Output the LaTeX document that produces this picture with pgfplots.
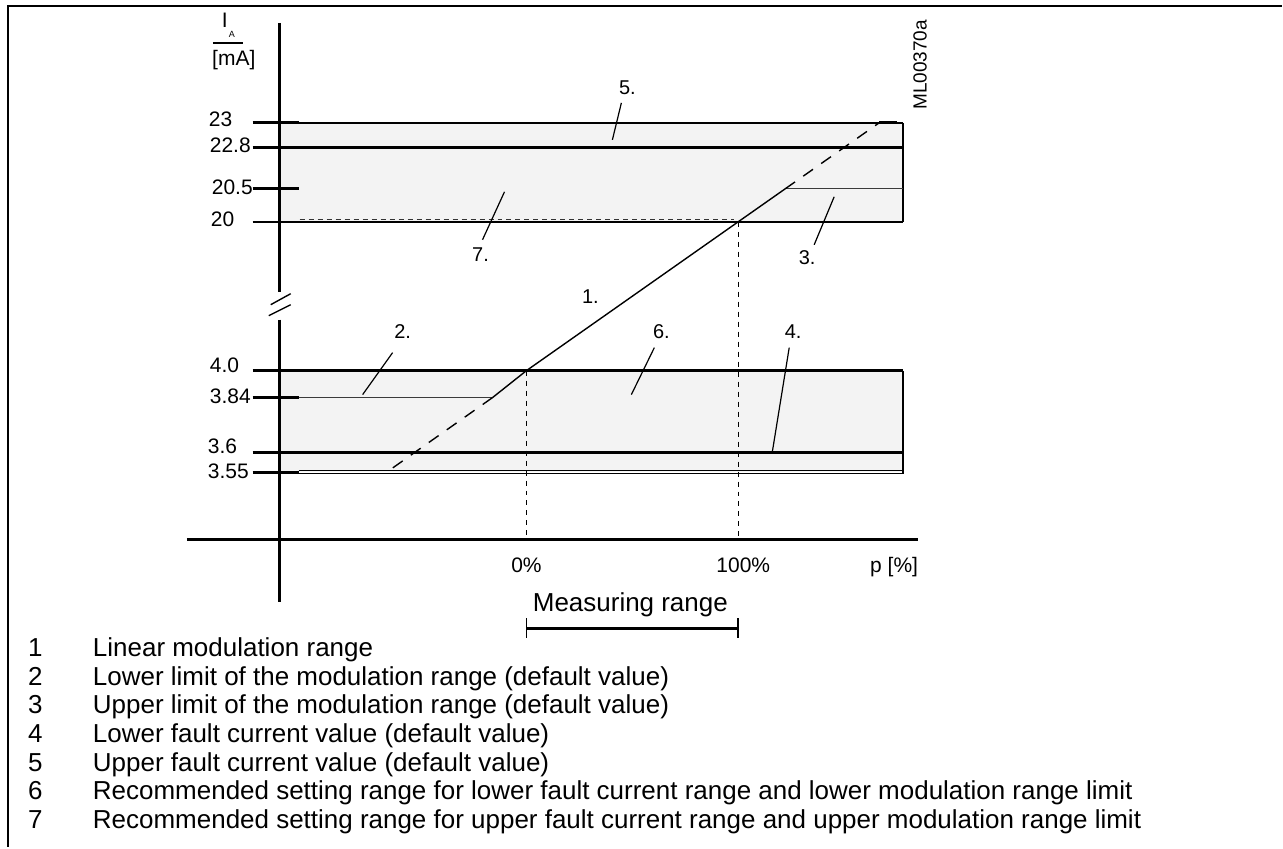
\documentclass[border=0pt]{standalone}
\usepackage{pgfplots}
\pgfplotsset{compat=1.18}
\usepackage{fontspec}
\setmainfont{Liberation Sans}
\definecolor{bandgray}{HTML}{F3F3F3}
\definecolor{linegray}{HTML}{3A3A3A}
\newcommand{\fs}[1]{\fontsize{#1}{#1}\selectfont}

\begin{document}
\begin{tikzpicture}
% schematic drawn in pixel units of the original sheet (y counted downwards)
\begin{axis}[
    width=641.5pt, height=424pt, scale only axis,
    xmin=0, xmax=1283, ymin=0, ymax=848, y dir=reverse,
    hide axis, clip=false,
]
% keep the whole sheet in the bounding box
\addplot[draw=none] coordinates {(0,0) (1283,848)};
% frame
\addplot[black, line width=1.3pt] coordinates {(1283,6) (8,6) (8,848)};

% recommended setting ranges (7. upper, 6. lower)
\addplot[fill=bandgray, draw=none] coordinates {(280,123) (904,123) (904,222) (280,222)} -- cycle;
\addplot[fill=bandgray, draw=none] coordinates {(280,371) (904,371) (904,472) (280,472)} -- cycle;

% upper band lines
\addplot[black, line width=0.9pt] coordinates {(280,123) (904,123)};
\addplot[black, line width=1.5pt] coordinates {(253,148) (904,148)};
\addplot[black, line width=1.2pt] coordinates {(253,222) (904,222)};
\addplot[black!80, line width=0.5pt, dash pattern=on 2.5pt off 2pt] coordinates {(300,219.5) (735,219.5)};
\addplot[black, line width=0.7pt] coordinates {(904,123) (904,222)};
\addplot[black, line width=1.5pt] coordinates {(253,123) (299,123)};
\addplot[black, line width=1.5pt] coordinates {(253,189) (299,189)};

% lower band lines
\addplot[black, line width=1.5pt] coordinates {(253,371) (904,371)};
\addplot[black, line width=1.5pt] coordinates {(253,453) (904,453)};
\addplot[black, line width=0.6pt] coordinates {(299,471) (904,471)};
\addplot[black, line width=0.6pt] coordinates {(299,474) (904,474)};
\addplot[black, line width=0.7pt] coordinates {(904,371) (904,474)};
\addplot[black, line width=1.5pt] coordinates {(253,398) (299,398)};
\addplot[black, line width=1.5pt] coordinates {(253,473) (299,473)};

% 2. lower limit, 1. linear range, 3. upper limit
\addplot[linegray, line width=0.65pt] coordinates {(299,398) (493,398)};
\addplot[black, line width=0.7pt] coordinates {(493,398) (527,371) (739,222) (786,189)};
\addplot[linegray, line width=0.65pt] coordinates {(786,189) (904,189)};
\addplot[black, line width=0.7pt, dash pattern=on 6pt off 5pt] coordinates {(493,398) (388,472)};
\addplot[black, line width=0.7pt, dash pattern=on 6pt off 5pt] coordinates {(786,189) (880,123)};
\addplot[black, line width=1.5pt] coordinates {(880,123) (898,123)};

% 0 % and 100 % markers
\addplot[black, line width=0.6pt, dash pattern=on 2.5pt off 2.5pt] coordinates {(527,371) (527,538)};
\addplot[black, line width=0.6pt, dash pattern=on 2.5pt off 2.5pt] coordinates {(739,222) (739,538)};

% axes with break
\addplot[black, line width=1.5pt] coordinates {(280,23) (280,292)};
\addplot[black, line width=1.5pt] coordinates {(280,320) (280,603)};
\addplot[black, line width=0.7pt] coordinates {(271,305) (291,294)};
\addplot[black, line width=0.7pt] coordinates {(269,316) (291,305)};
\addplot[black, line width=1.6pt] coordinates {(187,540) (919,540)};

% leaders
\addplot[black, line width=0.6pt] coordinates {(622,103) (613,140)};
\addplot[black, line width=0.6pt] coordinates {(505,192) (483,240)};
\addplot[black, line width=0.6pt] coordinates {(835,197) (815,245)};
\addplot[black, line width=0.6pt] coordinates {(393,353) (363,395)};
\addplot[black, line width=0.6pt] coordinates {(655,348) (632,395)};
\addplot[black, line width=0.6pt] coordinates {(790,348) (773,453)};

% measuring range bracket
\addplot[black, line width=1.3pt] coordinates {(527,629) (739,629)};
\addplot[black, line width=0.8pt] coordinates {(527,619) (527,639)};
\addplot[black, line width=0.8pt] coordinates {(739,619) (739,639)};

% axis title I_A / [mA]
\node[anchor=base, font=\fs{10.5}] at (axis cs:225,28) {I};
\node[anchor=base, font=\fs{4.5}] at (axis cs:232,38) {A};
\addplot[black, line width=0.6pt] coordinates {(213,43) (243,43)};
\node[anchor=base, font=\fs{10.5}] at (axis cs:234,66) {[mA]};
\node[rotate=90, font=\fs{9.5}] at (axis cs:921,65) {ML00370a};

% tick labels
\begin{scope}[every node/.style={anchor=base west, font=\fs{10.5}}]
\node at (axis cs:202,127) {23};
\node at (axis cs:203,153) {22.8};
\node at (axis cs:205,195) {20.5};
\node at (axis cs:204,227) {20};
\node at (axis cs:203,373) {4.0};
\node at (axis cs:203,404) {3.84};
\node at (axis cs:201,454) {3.6};
\node at (axis cs:201,479) {3.55};
\end{scope}

% callouts
\begin{scope}[every node/.style={anchor=base, font=\fs{10}}]
\node at (axis cs:628,95) {5.};
\node at (axis cs:481,262) {7.};
\node at (axis cs:808,265) {3.};
\node at (axis cs:591,304) {1.};
\node at (axis cs:403,339) {2.};
\node at (axis cs:662,339) {6.};
\node at (axis cs:794,339) {4.};
\end{scope}
\begin{scope}[every node/.style={anchor=base, font=\fs{10.5}}]
\node at (axis cs:527,573) {0\%};
\node at (axis cs:744,573) {100\%};
\node at (axis cs:895,573) {p [\%]};
\end{scope}
\node[anchor=base, font=\fs{13}] at (axis cs:631,612) {Measuring range};

% key
\begin{scope}[every node/.style={anchor=base west, font=\fs{13}}]
\node at (axis cs:21,657) {1};
\node at (axis cs:86,657) {Linear modulation range};
\node at (axis cs:21,686) {2};
\node at (axis cs:86,686) {Lower limit of the modulation range (default value)};
\node at (axis cs:21,714) {3};
\node at (axis cs:86,714) {Upper limit of the modulation range (default value)};
\node at (axis cs:21,743) {4};
\node at (axis cs:86,743) {Lower fault current value (default value)};
\node at (axis cs:21,772) {5};
\node at (axis cs:86,772) {Upper fault current value (default value)};
\node at (axis cs:21,800) {6};
\node at (axis cs:86,800) {Recommended setting range for lower fault current range and lower modulation range limit};
\node at (axis cs:21,829) {7};
\node at (axis cs:86,829) {Recommended setting range for upper fault current range and upper modulation range limit};
\end{scope}
\end{axis}
\end{tikzpicture}
\end{document}
